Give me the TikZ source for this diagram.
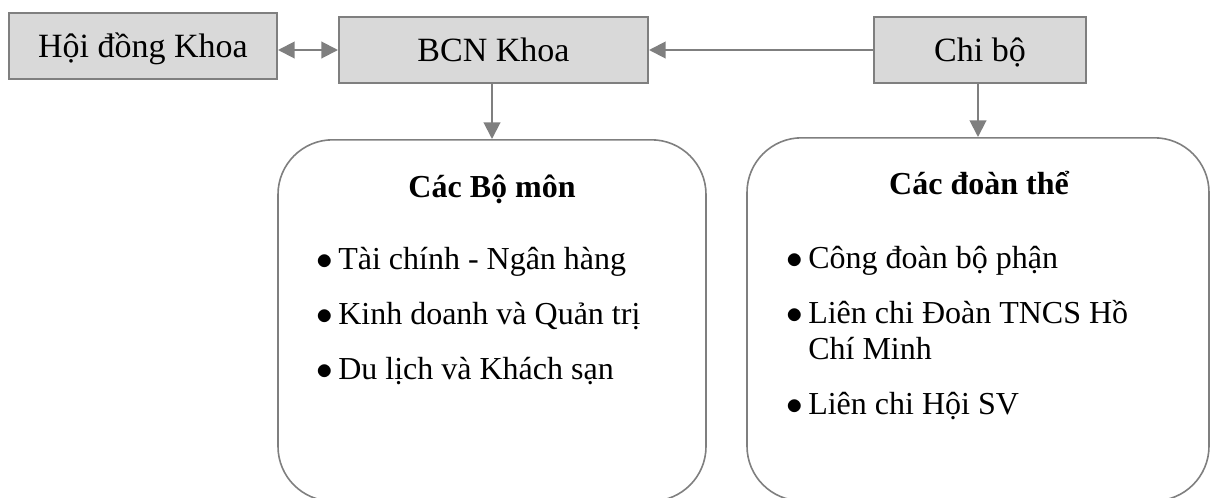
\documentclass[tikz,border=0pt]{standalone}
\usepackage{fontspec}
\setmainfont{Liberation Serif}
\usepackage{tikz}
\usetikzlibrary{arrows.meta,positioning}
\definecolor{linegray}{HTML}{7F7F7F}
\definecolor{boxgray}{HTML}{D9D9D9}
\newcommand{\itm}{\makebox[16.5pt][l]{$\bullet$}}

\begin{document}
\begin{tikzpicture}[x=0.75pt,y=-0.75pt]
                \tikzstyle{every node}+=[inner sep=0pt]
                \tikzstyle{head}=[draw=linegray, line width=1.5pt, fill=boxgray, minimum height=49.5pt, text height=21pt, text depth=4pt, font=\fontsize{25.5}{30}\selectfont]
                \tikzstyle{unit}=[draw=linegray, line width=1.2pt, rounded corners=41pt, anchor=north]
                \tikzstyle{item}=[anchor=base west, font=\fontsize{24}{29}\selectfont]
                \tikzstyle{link}=[draw=linegray, line width=1.5pt, -{Triangle[length=12.5pt,width=12.5pt]}]
                \useasboundingbox (0,0) rectangle (1211,497);
                \clip (0,0) rectangle (1211,497);
                % top row
                \node [head, minimum width=201pt] (hoidong) at (143,46) {Hội đồng Khoa};
                \node [head, minimum width=231.75pt] (bcn) at (493.5,50) {BCN Khoa};
                \node [head, minimum width=159pt] (chibo) at (980,50) {Chi bộ};
                % lower boxes
                \node [unit, minimum width=321pt, minimum height=271pt] (bomon) at (492,139) {};
                \node [unit, minimum width=346.5pt, minimum height=272.25pt] (doanthe) at (978,137) {};
                \node [anchor=base, font=\fontsize{24}{29}\selectfont\bfseries] (bomonT) at (492,197) {Các Bộ môn};
                \node [anchor=base, font=\fontsize{24}{29}\selectfont\bfseries] (doantheT) at (979,194) {Các đoàn thể};
                \node [item] (bm1) at (316,269) {\itm Tài chính - Ngân hàng};
                \node [item] (bm2) at (316,324) {\itm Kinh doanh và Quản trị};
                \node [item] (bm3) at (316,379) {\itm Du lịch và Khách sạn};
                \node [item] (dt1) at (786,268) {\itm Công đoàn bộ phận};
                \node [item] (dt2) at (786,323) {\itm Liên chi Đoàn TNCS Hồ};
                \node [item] (dt2b) at (808,359) {Chí Minh};
                \node [item] (dt3) at (786,414) {\itm Liên chi Hội SV};
                % connectors
                \draw [link, {Triangle[length=12.5pt,width=12.5pt]}-{Triangle[length=12.5pt,width=12.5pt]}] (bcn.west -| hoidong.east) -- (bcn.west);
                \draw [link] (chibo.west) -- (bcn.east);
                \draw [link] (bcn.south -| bomon.north) -- (bomon.north);
                \draw [link] (chibo.south -| doanthe.north) -- (doanthe.north);
            \end{tikzpicture}
\end{document}
